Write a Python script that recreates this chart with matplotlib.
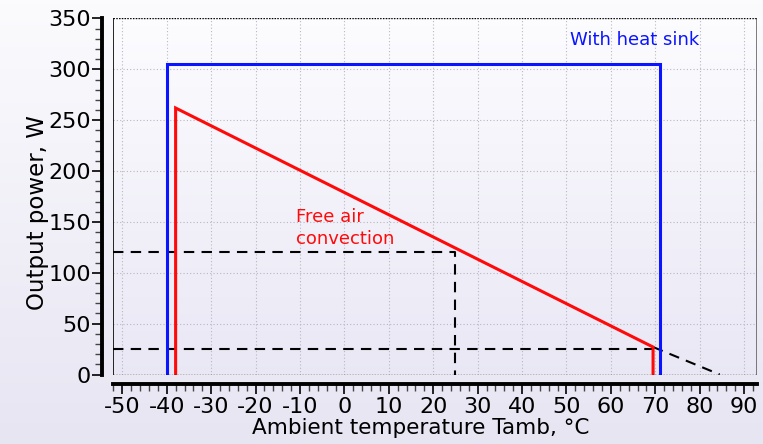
import numpy as np
import matplotlib.pyplot as plt
from matplotlib.lines import Line2D
from matplotlib.ticker import MultipleLocator

plt.rcParams["axes.unicode_minus"] = False

# derating curves (temperature in °C, power in W)
sink_t = [-40, -40, 71, 71]
sink_p = [0, 305, 305, 0]
air_t = [-38, -38, 69.5, 69.5]
air_p = [0, 262, 27, 0]
ext_t = [69.5, 84.5]
ext_p = [27, 0]
# reading guides: 25 °C -> 120 W, upper limit 25 W
guide_t = 25
guide_p = 120
low_p = 25

xticks = np.arange(-50, 91, 10)
yticks = np.arange(0, 351, 50)

W, H = 763, 444
fig = plt.figure(figsize=(W / 100, H / 100), dpi=100)

# soft lavender background
bg = fig.add_axes([0, 0, 1, 1], zorder=-10)
grad = np.linspace(0, 1, 256)[:, None]
top = np.array([0.985, 0.985, 0.995])
bot = np.array([0.905, 0.898, 0.950])
img = top + (bot - top) * grad[..., None]
bg.imshow(img, aspect="auto", extent=[0, 1, 0, 1], origin="upper")
bg.axis("off")

left, right, ytop, ybot = 113, 757, 18.5, 374.5
ax = fig.add_axes([left / W, (H - ybot) / H, (right - left) / W, (ybot - ytop) / H])
ax.set_facecolor("none")
xlim = (-52.1, 92.9)
ylim = (0, 350)
ax.set_xlim(xlim)
ax.set_ylim(ylim)

top2 = np.array([0.99, 0.99, 1.0])
bot2 = np.array([0.915, 0.908, 0.960])
img2 = top2 + (bot2 - top2) * grad[..., None]
ax.imshow(img2, aspect="auto", extent=[*xlim, *ylim], origin="upper", zorder=0)

ax.grid(True, which="major", ls=(0, (1, 2)), lw=0.8, color="#b8b8c0", zorder=1)

ax.plot(sink_t, sink_p, color="#0a14ff", lw=2.2, zorder=4, solid_joinstyle="miter")
ax.plot(air_t, air_p, color="#ff0a0a", lw=2.2, zorder=4, solid_joinstyle="miter")

dash = dict(color="black", lw=1.5, ls=(0, (5, 3.5)), zorder=3)
ax.plot([xlim[0], guide_t, guide_t], [guide_p, guide_p, 0], **dash)
ax.plot([xlim[0], air_t[-1]], [low_p, low_p], **dash)
ax.plot(ext_t, ext_p, **dash)

ax.text(50.8, 329, "With heat sink", color="#0a14ff", fontsize=13, va="center")
ax.text(-11, 144, "Free air\nconvection", color="#ff0a0a", fontsize=13,
        va="center", ha="left", linespacing=1.25)

# plot-area frame
ax.add_line(Line2D([0, 0], [0, 1], transform=ax.transAxes, color="black", lw=1.2, zorder=5))
ax.add_line(Line2D([1, 1], [0, 1], transform=ax.transAxes, color="#555555", lw=1.8, zorder=5))
ax.add_line(Line2D([0, 1], [1, 1], transform=ax.transAxes, color="black", lw=1.0,
                   ls=(0, (1, 1)), zorder=5))
ax.add_line(Line2D([0, 1], [0, 0], transform=ax.transAxes, color="black", lw=1.0,
                   ls=(0, (1, 1)), zorder=5))

# detached axis lines
ax.spines[["top", "right"]].set_visible(False)
ax.spines["left"].set_position(("outward", 8))
ax.spines["bottom"].set_position(("outward", 7))
ax.spines["left"].set_linewidth(2.8)
ax.spines["bottom"].set_linewidth(2.8)

ax.set_xticks(xticks)
ax.set_yticks(yticks)
ax.xaxis.set_minor_locator(MultipleLocator(2))
ax.yaxis.set_minor_locator(MultipleLocator(10))
ax.tick_params(which="major", direction="out", length=7, width=1.2, labelsize=16, pad=2)
ax.tick_params(which="minor", direction="out", length=5, width=1.0, color="#444444")
ax.tick_params(axis="y", which="major", pad=1)

ax.set_xlabel("Ambient temperature Tamb, °C", fontsize=15.5)
ax.set_ylabel("Output power, W", fontsize=16.5)
ax.xaxis.set_label_coords(0.477, -0.123)
ax.yaxis.set_label_coords(-0.1, 0.455)

plt.savefig("out.png", dpi=100)
